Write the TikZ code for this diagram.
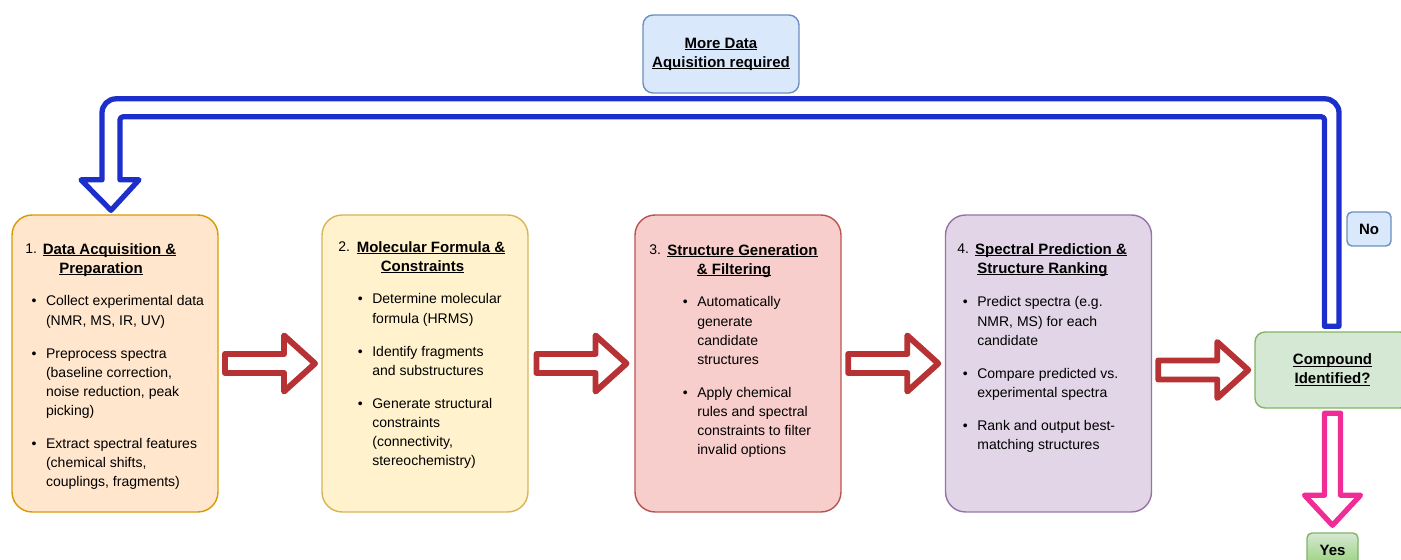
\documentclass[tikz,border=0pt]{standalone}
\usepackage{fontspec}
\setmainfont{Liberation Sans}
\usetikzlibrary{calc}

\definecolor{acqfill}{HTML}{FFE6CC}
\definecolor{acqline}{HTML}{D79B00}
\definecolor{formfill}{HTML}{FFF2CC}
\definecolor{formline}{HTML}{D6B656}
\definecolor{genfill}{HTML}{F8CECC}
\definecolor{genline}{HTML}{B85450}
\definecolor{predfill}{HTML}{E1D5E7}
\definecolor{predline}{HTML}{9673A6}
\definecolor{decfill}{HTML}{D5E8D4}
\definecolor{decline}{HTML}{82B366}
\definecolor{yesgreen}{HTML}{97D077}
\definecolor{infofill}{HTML}{DAE8FC}
\definecolor{infoline}{HTML}{6C8EBF}
\definecolor{flowred}{HTML}{B73234}
\definecolor{loopblue}{HTML}{1C2FCB}
\definecolor{yespink}{HTML}{F02C96}

\newcommand{\itemfont}{\fontsize{7.97}{10.82}\selectfont}
\newcommand{\headfont}{\fontsize{8.54}{10.82}\selectfont\bfseries}
\newcommand{\ulined}[1]{\setbox0=\hbox{#1}\rlap{\rule[-0.045cm]{\wd0}{0.03cm}}\box0}
\newcommand{\itemdot}{\llap{\textbullet\hspace{0.19cm}}}

\tikzset{
    stepbox/.style={draw, line width=0.8pt, rounded corners=0.4cm, minimum width=4.12cm, minimum height=5.94cm, inner sep=0},
    infobox/.style={draw=infoline, fill=infofill, line width=0.8pt, rounded corners=0.2cm, inner sep=0, align=center, font=\headfont},
    steptitle/.style={anchor=north, inner sep=0, align=center, font=\headfont},
    stepnum/.style={anchor=base west, inner sep=0, font=\itemfont},
    steplist/.style={anchor=north west, inner sep=0, align=left, font=\itemfont},
    flowarrow/.style={draw=flowred, line width=3.4pt, line join=round, fill=white},
    looparrow/.style={draw=loopblue, line width=3pt, line join=round, fill=white},
    yesarrow/.style={draw=yespink, line width=3pt, line join=round, fill=white}
}

\begin{document}
\begin{tikzpicture}[x=0.02cm, y=-0.02cm]
        \useasboundingbox (0,0) rectangle (1401,560);

        \node[stepbox, draw=acqline, fill=acqfill] (s1) at (115,363.5) {};
        \node[stepbox, draw=formline, fill=formfill] (s2) at (425,363.5) {};
        \node[stepbox, draw=genline, fill=genfill] (s3) at (738,363.5) {};
        \node[stepbox, draw=predline, fill=predfill] (s4) at (1048.5,363.5) {};
        \node[infobox, draw=decline, fill=decfill, minimum width=3.1cm, minimum height=1.52cm] (cid) at (1332.5,370) {\ulined{Compound}\\\ulined{Identified?}};
        \node[infobox, minimum width=3.12cm, minimum height=1.56cm] (more) at (721,54) {\ulined{More Data}\\\ulined{Aquisition required}};
        \node[infobox, rounded corners=0.1cm, minimum width=0.88cm, minimum height=0.68cm] (no) at (1369,229) {No};
        \node[infobox, draw=decline, top color=decfill, bottom color=yesgreen, rounded corners=0.1cm, minimum width=1.02cm, minimum height=0.68cm] (yes) at (1332.5,550) {Yes};

        \node[stepnum] at (25,254) {1.};
        \node[steptitle] (t1) at (109.5,243) {\ulined{Data Acquisition \&}\\\ulined{Preparation}\hspace*{0.34cm}};
        \node[steplist] (l1) at (45.7,295.5) {\itemdot Collect experimental data\\(NMR, MS, IR, UV)\\[0.28cm]\itemdot Preprocess spectra\\(baseline correction,\\noise reduction, peak\\picking)\\[0.28cm]\itemdot Extract spectral features\\(chemical shifts,\\couplings, fragments)};

        \node[stepnum] at (338,252) {2.};
        \node[steptitle] (t2) at (431,241) {\ulined{Molecular Formula \&}\\\ulined{Constraints}\hspace*{0.34cm}};
        \node[steplist] (l2) at (372,293.5) {\itemdot Determine molecular\\formula (HRMS)\\[0.28cm]\itemdot Identify fragments\\and substructures\\[0.28cm]\itemdot Generate structural\\constraints\\(connectivity,\\stereochemistry)};

        \node[stepnum] at (649,255) {3.};
        \node[steptitle] (t3) at (742.5,244) {\ulined{Structure Generation}\\\ulined{\& Filtering}\hspace*{0.34cm}};
        \node[steplist] (l3) at (697,296.5) {\itemdot Automatically\\generate\\candidate\\structures\\[0.28cm]\itemdot Apply chemical\\rules and spectral\\constraints to filter\\invalid options};

        \node[stepnum] at (957,254) {4.};
        \node[steptitle] (t4) at (1051,243) {\ulined{Spectral Prediction \&}\\\ulined{Structure Ranking}\hspace*{0.34cm}};
        \node[steplist] (l4) at (977,296.5) {\itemdot Predict spectra (e.g.\\NMR, MS) for each\\candidate\\[0.28cm]\itemdot Compare predicted vs.\\experimental spectra\\[0.28cm]\itemdot Rank and output best-\\matching structures};

        \foreach \a/\b in {s1/s2, s2/s3, s3/s4, s4/cid} {
            \path (\a.east) -- (\b.west) coordinate[pos=0.5] (m0);
            \coordinate (m) at (m0 |- \b.west);
            \draw[flowarrow, shift={(m)}] (-45,-9.5) -- (14,-9.5) -- (14,-28) -- (45,0) -- (14,28) -- (14,9.5) -- (-45,9.5) -- cycle;
        }

        \draw[looparrow] ($(cid.north)+(-8,-5)$) -- ($(cid.north)+(6.5,-5)$) -- ($(cid.north)+(6.5,-120)$)
            [rounded corners=0.28cm] -- ($(cid.north)+(6.5,-232.5)$) -- ($(s1.north)+(-13,-115.5)$) -- ($(s1.north)+(-13,-70)$)
            [sharp corners] -- ($(s1.north)+(-13,-34.5)$) -- ($(s1.north)+(-34,-34.5)$) -- ($(s1.north)+(-4,-4)$)
            -- ($(s1.north)+(24,-34.5)$) -- ($(s1.north)+(5,-34.5)$) -- ($(s1.north)+(5,-70)$)
            [rounded corners=0.06cm] -- ($(s1.north)+(5,-97.5)$) -- ($(cid.north)+(-8,-214.5)$) -- ($(cid.north)+(-8,-100)$)
            [sharp corners] -- cycle;

        \draw[yesarrow] ($(cid.south)+(-8,4.5)$) -- ($(cid.south)+(8,4.5)$) -- ($(cid.south)+(8,86.5)$) -- ($(cid.south)+(28,86.5)$)
            -- ($(yes.north)+(0,-7)$) -- ($(cid.south)+(-28,86.5)$) -- ($(cid.south)+(-8,86.5)$) -- cycle;
\end{tikzpicture}
\end{document}
